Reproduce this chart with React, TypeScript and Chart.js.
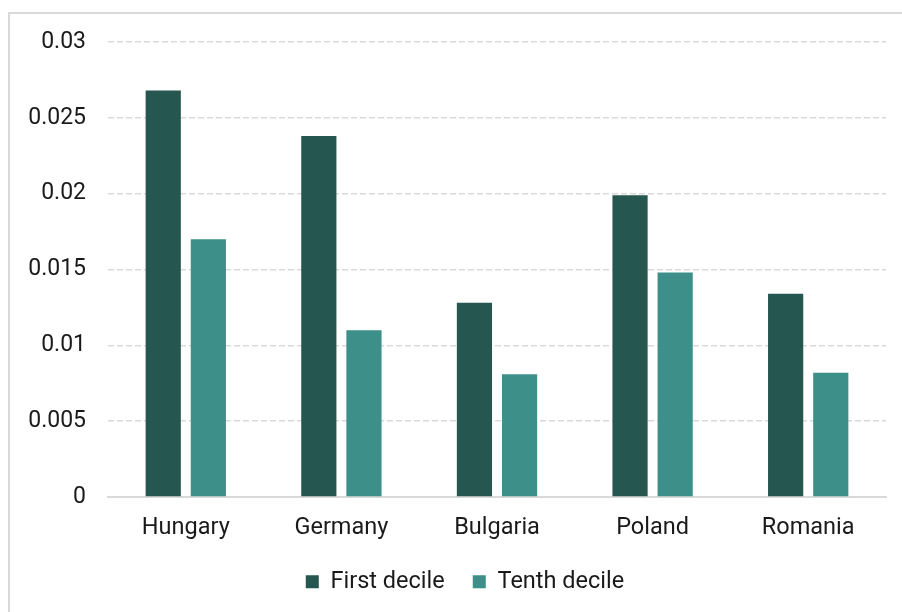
import React, { useEffect, useRef } from "react";
import { Chart, registerables } from "chart.js";

Chart.register(...registerables);

const categories = ["Hungary", "Germany", "Bulgaria", "Poland", "Romania"];
const firstDecile = [0.0268, 0.0238, 0.0128, 0.0199, 0.0134];
const tenthDecile = [0.0170, 0.0110, 0.0081, 0.0148, 0.0082];
const seriesNames = ["First decile", "Tenth decile"];
const yTicks = [0, 0.005, 0.01, 0.015, 0.02, 0.025, 0.03];

const DARK = "#255750";
const LIGHT = "#3d8f89";
const FONT = "Roboto, 'Liberation Sans', sans-serif";

const frameBorder = {
  id: "frameBorder",
  beforeDraw(chart: any) {
    const ctx = chart.ctx;
    ctx.save();
    ctx.strokeStyle = "#d9d9d9";
    ctx.lineWidth = 2;
    ctx.beginPath();
    ctx.moveTo(9, chart.height + 10);
    ctx.lineTo(9, 13);
    ctx.lineTo(chart.width + 10, 13);
    ctx.stroke();
    ctx.restore();
  },
};

const legendShift = {
  id: "legendShift",
  afterLayout(chart: any) {
    const lg = chart.legend;
    if (lg) {
      lg.left += 22;
      lg.right += 22;
    }
  },
};

export default function App() {
  const ref = useRef<HTMLCanvasElement | null>(null);
  useEffect(() => {
    if (!ref.current) return;
    const chart = new Chart(ref.current, {
      type: "bar",
      data: {
        labels: categories,
        datasets: [
          {
            label: seriesNames[0],
            data: firstDecile,
            backgroundColor: DARK,
            borderWidth: 0,
            barPercentage: 0.78,
            categoryPercentage: 0.58,
          },
          {
            label: seriesNames[1],
            data: tenthDecile,
            backgroundColor: LIGHT,
            borderWidth: 0,
            barPercentage: 0.78,
            categoryPercentage: 0.58,
          },
        ],
      },
      options: {
        animation: false,
        responsive: false,
        maintainAspectRatio: false,
        layout: { padding: { top: 42, right: 16, bottom: 8.5, left: 0 } },
        plugins: {
          tooltip: { enabled: false },
          legend: {
            position: "bottom",
            labels: {
              boxWidth: 13,
              boxHeight: 13,
              padding: 28,
              color: "#1a1a1a",
              font: { family: FONT, size: 23.5 },
            },
          },
        },
        scales: {
          x: {
            grid: { display: false, drawTicks: false },
            border: { display: true, color: "#d9d9d9", width: 2 },
            ticks: {
              color: "#1a1a1a",
              padding: 17,
              font: { family: FONT, size: 23.5 },
            },
            afterFit(scale: any) {
              scale.height = 45;
            },
          },
          y: {
            min: 0,
            max: 0.03,
            afterBuildTicks(scale: any) {
              scale.ticks = yTicks.map((v) => ({ value: v }));
            },
            afterFit(scale: any) {
              scale.width = 108;
            },
            grid: {
              drawTicks: false,
              color: (c: any) => (c.tick && c.tick.value === 0 ? "rgba(0,0,0,0)" : "#d9d9d9"),
              lineWidth: 1.5,
            },
            border: { display: false, dash: [6, 3] },
            ticks: {
              color: "#1a1a1a",
              padding: 22,
              font: { family: FONT, size: 23 },
              callback: (v: any) => String(Number(v)),
            },
          },
        },
      },
      plugins: [frameBorder, legendShift],
    });
    return () => chart.destroy();
  }, []);
  return (
    <div style={{ position: "fixed", left: 0, top: 0, width: 902, height: 612, background: "#fff" }}>
      <canvas ref={ref} width={902} height={612} style={{ width: 902, height: 612 }} />
    </div>
  );
}
